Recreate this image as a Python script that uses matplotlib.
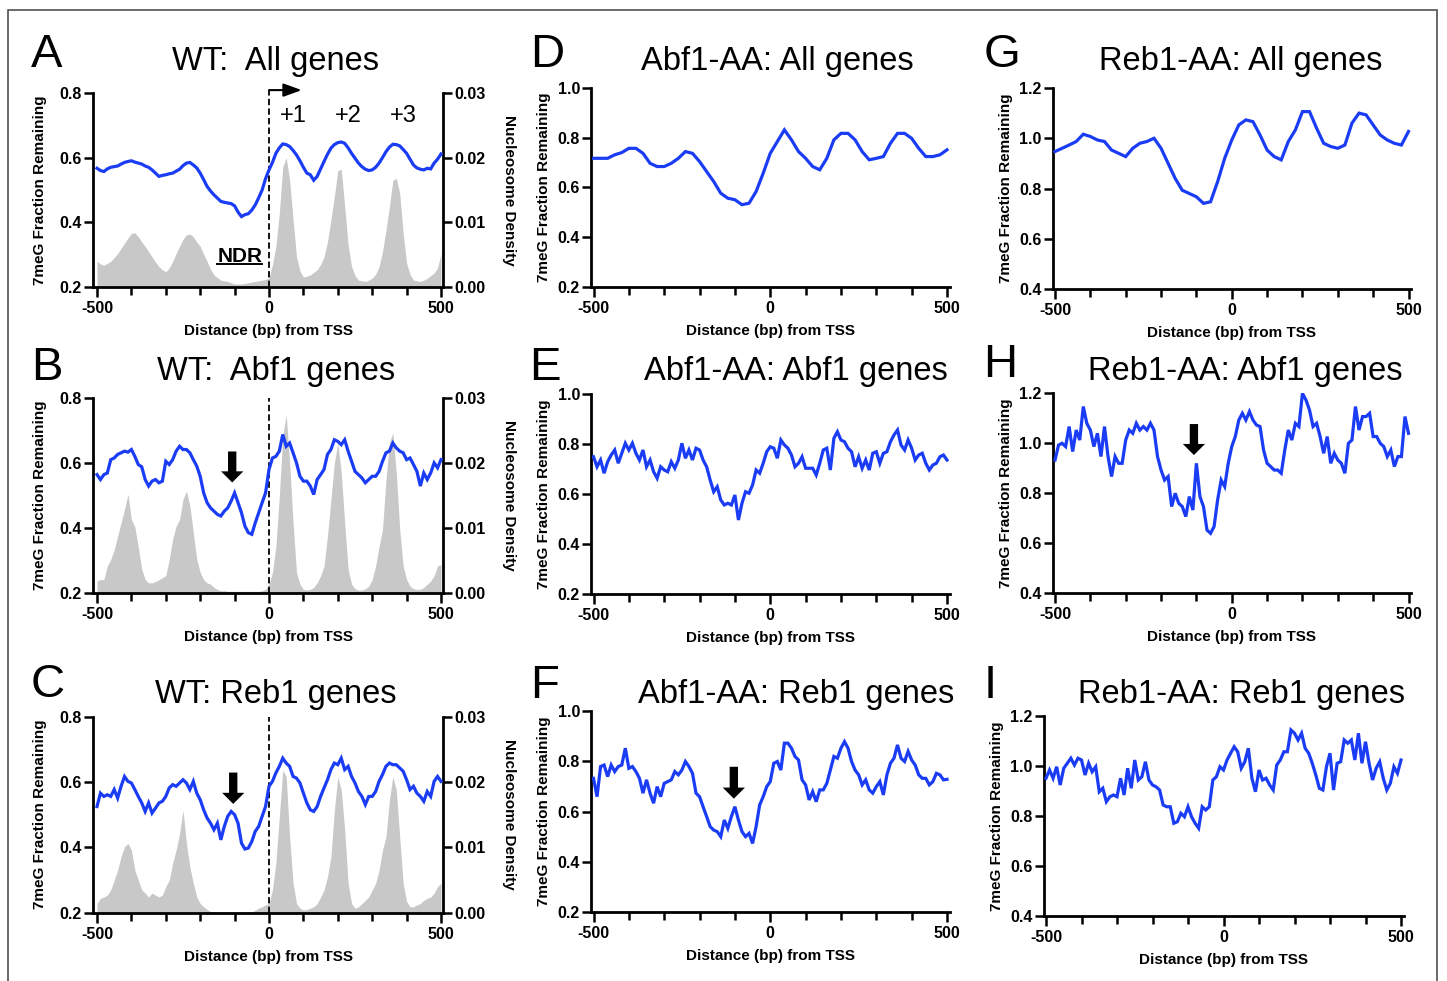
import numpy as np
import matplotlib.pyplot as plt
from matplotlib.patches import Rectangle
from matplotlib.ticker import MultipleLocator, FixedLocator, FormatStrFormatter

plt.rcParams['font.family'] = ['Liberation Sans', 'DejaVu Sans']
plt.rcParams['font.weight'] = 'bold'
plt.rcParams['axes.unicode_minus'] = False

W, H = 1447, 981
BLUE = '#1a3cf5'
GRAY = '#c8c8c8'

# positions relative to TSS (bp)
pos10 = np.arange(-500, 501, 10)
pos20 = np.arange(-500, 501, 20)

# ---- WT (left column): 7meG fraction remaining ----
wt_all = [0.567, 0.560, 0.557, 0.565, 0.570, 0.572, 0.574, 0.580, 0.585, 0.588,
          0.590, 0.586, 0.583, 0.580, 0.574, 0.570, 0.562, 0.552, 0.542, 0.545,
          0.547, 0.550, 0.552, 0.558, 0.564, 0.575, 0.583, 0.585, 0.577, 0.568,
          0.552, 0.532, 0.511, 0.497, 0.485, 0.475, 0.465, 0.462, 0.460, 0.458,
          0.451, 0.432, 0.418, 0.424, 0.427, 0.438, 0.454, 0.476, 0.500, 0.535,
          0.562,
          0.585, 0.613, 0.630, 0.642, 0.640, 0.634, 0.622, 0.608, 0.590, 0.570,
          0.552, 0.547, 0.530, 0.542, 0.565, 0.588, 0.610, 0.629, 0.640, 0.646,
          0.648, 0.644, 0.630, 0.613, 0.598, 0.583, 0.572, 0.564, 0.560, 0.562,
          0.570, 0.583, 0.600, 0.618, 0.632, 0.641, 0.640, 0.636, 0.625, 0.613,
          0.595, 0.577, 0.568, 0.564, 0.562, 0.567, 0.565, 0.583, 0.595, 0.611]

wt_abf1 = [0.564, 0.549, 0.564, 0.569, 0.610, 0.615, 0.626, 0.631, 0.636, 0.633,
           0.641, 0.620, 0.595, 0.588, 0.549, 0.529, 0.544, 0.549, 0.539, 0.544,
           0.605, 0.595, 0.610, 0.636, 0.651, 0.641, 0.641, 0.631, 0.610, 0.590,
           0.559, 0.508, 0.478, 0.462, 0.452, 0.442, 0.437, 0.452, 0.462, 0.483,
           0.508, 0.478, 0.447, 0.406, 0.386, 0.381, 0.416, 0.447, 0.478, 0.508,
           0.580,
           0.615, 0.620, 0.636, 0.687, 0.651, 0.661, 0.631, 0.600, 0.559, 0.544,
           0.544, 0.529, 0.503, 0.549, 0.564, 0.580, 0.626, 0.641, 0.671, 0.666,
           0.656, 0.671, 0.636, 0.605, 0.574, 0.564, 0.554, 0.539, 0.549, 0.559,
           0.559, 0.574, 0.605, 0.631, 0.636, 0.661, 0.646, 0.636, 0.631, 0.610,
           0.615, 0.595, 0.574, 0.529, 0.569, 0.549, 0.569, 0.600, 0.585, 0.610]

wt_reb1 = [0.525, 0.566, 0.556, 0.561, 0.556, 0.577, 0.551, 0.587, 0.617, 0.602,
           0.597, 0.577, 0.556, 0.536, 0.510, 0.536, 0.505, 0.520, 0.536, 0.541,
           0.556, 0.582, 0.592, 0.587, 0.597, 0.607, 0.597, 0.577, 0.602, 0.566,
           0.546, 0.515, 0.490, 0.474, 0.454, 0.474, 0.423, 0.464, 0.495, 0.510,
           0.500, 0.474, 0.413, 0.395, 0.398, 0.418, 0.449, 0.464, 0.495, 0.525,
           0.587,
           0.602, 0.628, 0.648, 0.673, 0.658, 0.648, 0.617, 0.612, 0.597, 0.566,
           0.536, 0.515, 0.510, 0.525, 0.556, 0.582, 0.607, 0.638, 0.658, 0.653,
           0.673, 0.638, 0.648, 0.617, 0.597, 0.571, 0.556, 0.531, 0.556, 0.556,
           0.571, 0.602, 0.623, 0.648, 0.658, 0.653, 0.653, 0.643, 0.633, 0.607,
           0.577, 0.587, 0.566, 0.556, 0.541, 0.571, 0.556, 0.602, 0.617, 0.602]

# nucleosome density (x 1e-3)
nuc_all = [4.0, 3.6, 3.4, 3.7, 4.0, 4.6, 5.2, 6.0, 6.8, 7.6,
           8.3, 8.4, 7.8, 7.0, 6.3, 5.5, 4.7, 3.9, 3.2, 2.7,
           2.4, 3.0, 4.0, 5.2, 6.3, 7.4, 8.1, 8.2, 7.8, 7.0,
           6.3, 5.1, 4.0, 2.8, 1.9, 1.5, 1.1, 1.0, 0.9, 0.7,
           0.5, 0.5, 0.5, 0.6, 0.7, 0.8, 0.9, 1.0, 1.1, 1.2,
           1.4,
           3.5, 6.3, 11.4, 18.6, 20.0, 16.5, 10.4, 4.7, 2.5, 1.6,
           1.7, 1.9, 2.3, 2.7, 3.5, 4.7, 7.0, 10.4, 14.0, 18.0,
           18.2, 12.5, 6.5, 3.2, 1.8, 1.1, 1.0, 0.9, 1.1, 1.4,
           2.0, 3.2, 5.5, 8.8, 12.4, 16.5, 16.8, 14.5, 8.3, 3.7,
           2.0, 1.1, 1.0, 0.9, 1.1, 1.4, 1.8, 2.2, 3.0, 5.2]

nuc_abf1 = [1.9, 2.1, 2.1, 4.2, 5.2, 6.7, 8.8, 10.8, 12.9, 15.2,
            11.3, 10.2, 7.1, 3.7, 2.1, 1.6, 1.6, 1.8, 2.1, 2.4,
            2.7, 5.2, 8.3, 10.3, 11.3, 14.4, 15.7, 13.4, 9.3, 5.2,
            3.2, 2.1, 1.6, 1.4, 0.9, 0.6, 0.4, 0.4, 0.3, 0.3,
            0.3, 0.3, 0.3, 0.3, 0.3, 0.3, 0.3, 0.3, 0.4, 0.6,
            1.4,
            3.2, 7.2, 14.9, 24.1, 27.4, 20.0, 10.8, 3.2, 1.4, 0.6,
            0.5, 0.6, 0.9, 1.6, 2.7, 4.2, 8.8, 14.4, 20.0, 23.1,
            18.5, 10.8, 3.7, 1.4, 0.7, 0.5, 0.5, 0.7, 1.1, 2.1,
            4.2, 7.2, 9.8, 17.4, 23.1, 24.6, 18.5, 9.8, 4.2, 2.1,
            1.1, 0.7, 0.6, 0.6, 0.9, 1.4, 1.9, 2.7, 4.2, 4.4]

nuc_reb1 = [1.4, 2.2, 2.4, 2.7, 3.5, 5.0, 6.5, 8.6, 10.1, 10.6,
            9.6, 6.5, 5.0, 3.5, 3.0, 2.4, 3.0, 2.7, 2.4, 2.7,
            4.0, 5.0, 7.6, 9.6, 12.1, 15.7, 10.6, 7.0, 4.5, 2.4,
            1.4, 0.9, 0.5, 0.2, 0.1, 0.1, 0.1, 0.1, 0.1, 0.1,
            0.1, 0.1, 0.1, 0.1, 0.1, 0.1, 0.4, 0.7, 0.9, 1.2,
            1.4,
            3.5, 7.6, 14.7, 21.8, 20.8, 11.6, 4.5, 1.4, 0.7, 0.4,
            0.5, 0.7, 0.9, 1.4, 2.4, 3.5, 5.5, 8.6, 15.7, 20.8,
            18.8, 12.7, 4.5, 1.4, 0.7, 0.9, 1.4, 1.9, 2.4, 3.5,
            4.5, 6.5, 9.6, 11.6, 17.2, 20.8, 18.8, 11.6, 4.5, 1.7,
            0.9, 0.9, 1.2, 1.4, 1.9, 2.2, 2.4, 3.0, 4.0, 4.5]

# ---- Abf1-AA (middle column) ----
abf_all = [0.717, 0.717, 0.717, 0.731, 0.740, 0.757, 0.757, 0.737, 0.697, 0.684,
           0.684, 0.697, 0.717, 0.744, 0.737, 0.704, 0.664, 0.624, 0.577, 0.557,
           0.551, 0.531, 0.537, 0.584, 0.657, 0.737,
           0.784, 0.831, 0.791, 0.744, 0.717, 0.684, 0.671, 0.717, 0.791, 0.817,
           0.817, 0.791, 0.744, 0.711, 0.717, 0.724, 0.777, 0.817, 0.817, 0.797,
           0.757, 0.724, 0.724, 0.731, 0.751]

abf_abf1 = [0.749, 0.709, 0.736, 0.683, 0.729, 0.756, 0.776, 0.723, 0.763, 0.803,
            0.776, 0.803, 0.763, 0.736, 0.776, 0.709, 0.736, 0.689, 0.663, 0.709,
            0.696, 0.689, 0.729, 0.703, 0.736, 0.803, 0.743, 0.776, 0.736, 0.783,
            0.776, 0.736, 0.709, 0.656, 0.609, 0.629, 0.576, 0.556, 0.563, 0.556,
            0.596, 0.496, 0.563, 0.609, 0.603, 0.636, 0.696, 0.683, 0.723, 0.769,
            0.789,
            0.783, 0.743, 0.816, 0.796, 0.783, 0.756, 0.709, 0.723, 0.749, 0.703,
            0.703, 0.703, 0.676, 0.723, 0.776, 0.783, 0.696, 0.823, 0.849, 0.816,
            0.809, 0.783, 0.769, 0.709, 0.749, 0.703, 0.736, 0.696, 0.763, 0.769,
            0.723, 0.763, 0.769, 0.809, 0.836, 0.856, 0.796, 0.776, 0.816, 0.783,
            0.736, 0.756, 0.763, 0.723, 0.696, 0.716, 0.723, 0.749, 0.756, 0.736]

abf_reb1 = [0.732, 0.659, 0.779, 0.785, 0.739, 0.785, 0.759, 0.779, 0.785, 0.852,
            0.772, 0.779, 0.759, 0.732, 0.673, 0.726, 0.673, 0.633, 0.699, 0.659,
            0.712, 0.719, 0.726, 0.759, 0.746, 0.765, 0.799, 0.779, 0.752, 0.673,
            0.659, 0.619, 0.580, 0.540, 0.526, 0.520, 0.500, 0.566, 0.533, 0.580,
            0.619, 0.566, 0.520, 0.500, 0.513, 0.473, 0.540, 0.626, 0.659, 0.699,
            0.719,
            0.792, 0.799, 0.765, 0.872, 0.872, 0.852, 0.819, 0.805, 0.726, 0.706,
            0.646, 0.679, 0.639, 0.686, 0.686, 0.712, 0.765, 0.819, 0.812, 0.852,
            0.878, 0.852, 0.799, 0.765, 0.746, 0.706, 0.726, 0.686, 0.673, 0.699,
            0.719, 0.666, 0.746, 0.792, 0.812, 0.865, 0.812, 0.799, 0.839, 0.805,
            0.785, 0.746, 0.732, 0.732, 0.706, 0.719, 0.752, 0.746, 0.726, 0.728]

# ---- Reb1-AA (right column) ----
reb_all = [0.947, 0.960, 0.973, 0.987, 1.016, 1.007, 0.993, 0.987, 0.953, 0.940,
           0.927, 0.960, 0.980, 0.987, 1.000, 0.960, 0.900, 0.840, 0.793, 0.780,
           0.767, 0.741, 0.747, 0.827, 0.920, 0.993,
           1.053, 1.073, 1.066, 1.013, 0.953, 0.927, 0.914, 0.987, 1.033, 1.106,
           1.106, 1.040, 0.980, 0.967, 0.960, 0.973, 1.060, 1.100, 1.093, 1.053,
           1.013, 0.993, 0.980, 0.973, 1.027]

reb_abf1 = [0.933, 0.993, 1.000, 0.987, 1.067, 0.967, 1.053, 1.013, 1.147, 1.080,
            1.053, 0.987, 1.040, 0.947, 1.067, 0.947, 0.867, 0.947, 0.920, 0.920,
            1.013, 1.053, 1.040, 1.080, 1.053, 1.067, 1.053, 1.080, 1.053, 0.947,
            0.893, 0.853, 0.867, 0.747, 0.800, 0.760, 0.747, 0.707, 0.787, 0.733,
            0.920, 0.787, 0.747, 0.653, 0.640, 0.667, 0.773, 0.853, 0.827, 0.920,
            0.987,
            1.027, 1.093, 1.120, 1.093, 1.127, 1.093, 1.073, 1.067, 0.973, 0.920,
            0.907, 0.893, 0.893, 0.880, 0.973, 1.053, 1.013, 1.080, 1.067, 1.200,
            1.173, 1.133, 1.067, 1.080, 1.027, 0.960, 1.027, 0.920, 0.960, 0.933,
            0.920, 0.880, 1.000, 1.013, 1.147, 1.053, 1.107, 1.107, 1.120, 1.027,
            1.027, 1.000, 0.987, 0.947, 0.973, 0.907, 0.947, 0.947, 1.107, 1.040]

reb_reb1 = [0.951, 0.984, 0.951, 0.997, 0.924, 0.991, 1.011, 1.031, 1.004, 1.031,
            1.024, 0.964, 1.011, 0.977, 0.997, 0.897, 0.911, 0.857, 0.877, 0.884,
            0.877, 0.951, 0.884, 0.991, 0.911, 1.024, 0.944, 0.957, 1.017, 0.944,
            0.924, 0.917, 0.904, 0.844, 0.837, 0.837, 0.771, 0.777, 0.811, 0.797,
            0.837, 0.797, 0.771, 0.751, 0.837, 0.824, 0.837, 0.944, 0.957, 0.997,
            0.984,
            1.024, 1.051, 1.077, 1.057, 0.991, 1.017, 1.071, 0.951, 0.897, 0.984,
            0.944, 0.951, 0.924, 0.904, 1.004, 1.024, 1.057, 1.057, 1.144, 1.131,
            1.104, 1.131, 1.071, 1.051, 1.011, 0.964, 0.911, 0.904, 0.997, 1.051,
            0.904, 1.011, 1.017, 1.104, 1.091, 1.104, 1.024, 1.131, 1.011, 1.097,
            1.011, 0.944, 0.991, 1.017, 0.951, 0.904, 0.931, 0.997, 0.971, 1.024]

fig = plt.figure(figsize=(W / 100, H / 100), dpi=100)


def px_axes(left, top, right, bottom):
    return fig.add_axes([left / W, 1 - bottom / H, (right - left) / W, (bottom - top) / H])


def ftext(x, y, s, **kw):
    return fig.text(x / W, 1 - y / H, s, **kw)


# letter, title, (title x, title base), (letter x, letter base), box, tick px, ylim,
# x, y, nucleosome, arrow (x, tip, top)
panels = [
    ('A', 'WT:  All genes', (276, 70), (47, 67), (93, 92.7, 443, 287.3), (97, 441),
     (0.2, 0.8), pos10, wt_all, nuc_all, None),
    ('B', 'WT:  Abf1 genes', (276, 380), (47, 380), (93, 397.7, 443, 593.3), (97, 441),
     (0.2, 0.8), pos10, wt_abf1, nuc_abf1, (-107, 0.54, 0.635)),
    ('C', 'WT: Reb1 genes', (276, 703), (48, 697), (93, 716.7, 443, 912.7), (97, 441),
     (0.2, 0.8), pos10, wt_reb1, nuc_reb1, (-104, 0.533, 0.629)),
    ('D', 'Abf1-AA: All genes', (777, 70), (547, 67), (591, 87.7, 950, 287.3), (593.5, 947),
     (0.2, 1.0), pos20, abf_all, None, None),
    ('E', 'Abf1-AA: Abf1 genes', (796, 380), (545, 380), (591, 394, 950, 594), (593.5, 947),
     (0.2, 1.0), pos10, abf_abf1, None, None),
    ('F', 'Abf1-AA: Reb1 genes', (796, 703), (545, 698), (591, 711, 950, 912), (593.5, 947),
     (0.2, 1.0), pos10, abf_reb1, None, (-103, 0.651, 0.778)),
    ('G', 'Reb1-AA: All genes', (1241, 70), (1002, 67), (1052.5, 88, 1411, 289), (1055, 1408.5),
     (0.4, 1.2), pos20, reb_all, None, None),
    ('H', 'Reb1-AA: Abf1 genes', (1245, 380), (1000, 377), (1052.5, 393.3, 1411, 593.3), (1055, 1408.5),
     (0.4, 1.2), pos10, reb_abf1, None, (-107, 0.953, 1.077)),
    ('I', 'Reb1-AA: Reb1 genes', (1241, 703), (990, 698), (1043.5, 716, 1404, 916), (1046, 1401),
     (0.4, 1.2), pos10, reb_reb1, None, None),
]
ylabel_x = {'A': 40, 'B': 40, 'C': 40, 'D': 544, 'E': 544, 'F': 544,
            'G': 1006, 'H': 1006, 'I': 997}

axes = {}
for letter, title, tpos, lpos, box, tpx, ylim, xs, ys, nuc, arrow in panels:
    L, T, R, B = box
    ax = px_axes(L, T, R, B)
    s = (tpx[1] - tpx[0]) / 1000.0
    ax.set_xlim(-500 - (tpx[0] - L) / s, 500 + (R - tpx[1]) / s)
    ax.set_ylim(*ylim)

    ax.plot(xs, ys, color=BLUE, lw=2.3, solid_joinstyle='miter', zorder=3)

    for sp in ['top', 'right']:
        ax.spines[sp].set_visible(False)
    for sp in ['left', 'bottom']:
        ax.spines[sp].set_linewidth(2.0)
    ax.xaxis.set_major_locator(FixedLocator([-500, 0, 500]))
    ax.xaxis.set_minor_locator(MultipleLocator(100))
    ax.yaxis.set_major_locator(MultipleLocator(0.2))
    ax.yaxis.set_major_formatter(FormatStrFormatter('%.1f'))
    ax.tick_params(axis='x', which='major', direction='out', length=7, width=1.8,
                   labelsize=11.5, pad=3)
    ax.tick_params(axis='x', which='minor', direction='out', length=5.5, width=1.8)
    ax.tick_params(axis='y', which='major', direction='out', length=6.5, width=1.8,
                   labelsize=11.5, pad=1.5)

    if nuc is not None:
        ax2 = ax.twinx()
        ax2.fill_between(xs, 0, np.array(nuc) / 1000.0, color=GRAY, lw=0)
        ax2.set_ylim(0, 0.03)
        for sp in ['top', 'left', 'bottom']:
            ax2.spines[sp].set_visible(False)
        ax2.spines['right'].set_linewidth(2.0)
        ax2.yaxis.set_major_locator(MultipleLocator(0.01))
        ax2.yaxis.set_major_formatter(FormatStrFormatter('%.2f'))
        ax2.tick_params(axis='y', direction='out', length=6.5, width=1.8, labelsize=11.5, pad=1.5)
        ax.set_zorder(ax2.get_zorder() + 1)
        ax.patch.set_visible(False)
        top_frac = 1.013 if letter == 'A' else 1.0
        ax.axvline(0, ymin=0, ymax=top_frac, color='black', lw=1.3,
                   ls=(0, (3.5, 1.8)), clip_on=False, zorder=2)
        ftext(509, (T + B) / 2, 'Nucleosome Density', rotation=270,
              ha='center', va='center', size=11)

    if arrow is not None:
        ax_x, tip, top = arrow
        ax.annotate('', xy=(ax_x, tip), xytext=(ax_x, top),
                    arrowprops=dict(arrowstyle='simple,head_width=1.6,head_length=0.8,tail_width=0.6',
                                    fc='black', ec='black', lw=0, mutation_scale=10,
                                    shrinkA=0, shrinkB=0),
                    annotation_clip=False, zorder=5)

    ftext(ylabel_x[letter], (T + B) / 2, '7meG Fraction Remaining', rotation=90,
          ha='center', va='center', size=11)
    ftext((L + R) / 2, B + 44, 'Distance (bp) from TSS', ha='center', va='center', size=11)
    ftext(tpos[0], tpos[1], title, ha='center', va='baseline', size=23.5, weight='normal')
    ftext(lpos[0], lpos[1], letter, ha='center', va='baseline', size=34, weight='normal')
    axes[letter] = ax

# extra annotation on panel A
axA = axes['A']
axA.annotate('', xy=(95, 0.808), xytext=(0, 0.808),
             arrowprops=dict(arrowstyle='-|>,head_length=0.55,head_width=0.2', lw=1.5,
                             color='black', mutation_scale=20, shrinkA=0, shrinkB=0),
             annotation_clip=False)
for lab, lx in [('+1', 70), ('+2', 230), ('+3', 390)]:
    axA.text(lx, 0.728, lab, ha='center', va='center', size=17, weight='normal')
ndr = axA.text(-85, 0.278, 'NDR', ha='center', va='baseline', size=15, weight='bold')
fig.canvas.draw()
bb = ndr.get_window_extent().transformed(axA.transData.inverted())
axA.plot([bb.x0, bb.x1], [0.272, 0.272], color='black', lw=1.4)

fig.patches.append(Rectangle((8 / W, 1 - 990 / H), (1437 - 8) / W, (990 - 10) / H,
                             transform=fig.transFigure, fill=False, ec='#505050', lw=1.2))

fig.savefig('out.png', dpi=100)
